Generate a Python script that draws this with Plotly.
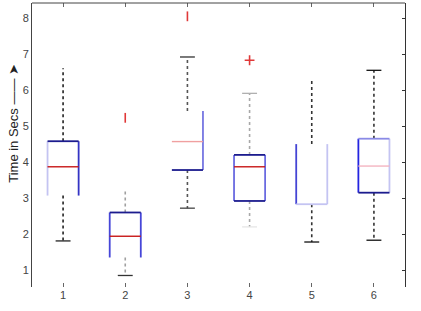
import plotly.graph_objects as go

# ---- data ----
groups = [1, 2, 3, 4, 5, 6]
q1 = [3.07, 1.35, 3.78, 2.92, 2.83, 3.15]
median = [3.87, 1.94, 4.57, 3.87, None, 3.89]
q3 = [4.58, 2.60, 5.42, 4.20, 4.50, 4.65]
lower_whisker = [1.81, 0.85, 2.72, 2.20, 1.78, 1.83]
upper_whisker = [6.61, 3.25, 6.92, 5.91, 6.33, 6.55]
outliers = [[], [5.23], [8.05], [6.83], [], []]
x_ticks = [1, 2, 3, 4, 5, 6]
y_ticks = [1, 2, 3, 4, 5, 6, 7, 8]

# ---- styles (rendering colours per box edge: left, right, bottom, top) ----
NAVY = "#1c1c8e"
MID = "#4646d8"
LIGHT = "#c4c4f2"
NONE = None
edge_colors = [
    (LIGHT, "#3434c4", NONE, NAVY),
    (MID, MID, NONE, NAVY),
    (NONE, "#7676e2", NAVY, NONE),
    ("#6a6ae0", "#6a6ae0", NAVY, NAVY),
    ("#4444d4", LIGHT, LIGHT, NONE),
    ("#2424e0", LIGHT, NAVY, "#8a8ae6"),
]
median_colors = ["#c81818", "#c81818", "#f0a0a0", "#c81818", None, "#f4b4c0"]
whisk_colors = ["#222222", "#a0a0a0", "#555555", "#a8a8a8", "#333333", "#333333"]
low_cap_colors = ["#222222", "#333333", "#444444", "#e6e6e6", "#111111", "#111111"]
up_cap_colors = [None, None, "#333333", "#b0b0b0", None, "#111111"]
out_symbols = [None, "line-ns-open", "line-ns-open", "cross-thin-open", None, None]
OUT_COLOR = "#e03838"

HW = 0.25   # box half width
CW = 0.12   # cap half width

fig = go.Figure()

def seg(x0, x1, y0, y1, color, width=1.6, dash=None):
    if color is None:
        return
    fig.add_trace(go.Scatter(x=[x0, x1], y=[y0, y1], mode="lines",
                             line=dict(color=color, width=width, dash=dash),
                             hoverinfo="skip", showlegend=False))

for i, g in enumerate(groups):
    l, r, b, t = edge_colors[i]
    # whiskers
    seg(g, g, q3[i], upper_whisker[i], whisk_colors[i], 1.6, "dot")
    seg(g, g, q1[i], lower_whisker[i], whisk_colors[i], 1.6, "dot")
    # caps
    seg(g - CW, g + CW, lower_whisker[i], lower_whisker[i], low_cap_colors[i], 1.3)
    seg(g - CW, g + CW, upper_whisker[i], upper_whisker[i], up_cap_colors[i], 1.3)
    # box edges
    seg(g - HW, g - HW, q1[i], q3[i], l, 1.8)
    seg(g + HW, g + HW, q1[i], q3[i], r, 1.8)
    seg(g - HW, g + HW, q1[i], q1[i], b, 1.8)
    seg(g - HW, g + HW, q3[i], q3[i], t, 1.8)
    # median
    if median[i] is not None:
        seg(g - HW, g + HW, median[i], median[i], median_colors[i], 1.4)
    # outliers
    if outliers[i]:
        fig.add_trace(go.Scatter(x=[g] * len(outliers[i]), y=outliers[i], mode="markers",
                                 marker=dict(symbol=out_symbols[i], size=7, color=OUT_COLOR,
                                             line=dict(color=OUT_COLOR, width=1.6)),
                                 hoverinfo="skip", showlegend=False))

# ghost trace to activate right axis
fig.add_trace(go.Scatter(x=[None], y=[None], yaxis="y2", showlegend=False))

fig.update_layout(
    width=421, height=311,
    margin=dict(l=32, r=16, t=3, b=24),
    plot_bgcolor="white", paper_bgcolor="white",
    font=dict(family="Liberation Sans, Arial, sans-serif", size=11, color="#444444"),
    xaxis=dict(range=[0.5, 6.5], tickvals=x_ticks, ticktext=[str(v) for v in x_ticks],
               showgrid=False, zeroline=False, showline=False,
               ticks="inside", ticklen=4, tickcolor="#666666", mirror="ticks"),
    yaxis=dict(range=[0.53, 8.42], tickvals=y_ticks, showgrid=False, zeroline=False,
               showline=True, linecolor="#444444", linewidth=1, ticks="", ticklen=0),
    yaxis2=dict(range=[0.53, 8.42], tickvals=y_ticks, overlaying="y", side="right",
                showgrid=False, zeroline=False, showline=True, linecolor="#333333",
                linewidth=1.2, ticks="inside", ticklen=3, tickcolor="#333333",
                showticklabels=False),
    shapes=[dict(type="line", xref="paper", yref="paper", x0=0, x1=1, y0=1, y1=1,
                 line=dict(color="#444444", width=1))],
    annotations=[dict(text="Time in Secs —— ➤", xref="paper", yref="paper",
                      x=-0.048, y=0.575, xanchor="center", yanchor="middle",
                      textangle=-90, showarrow=False,
                      font=dict(size=13, color="#222222"))],
)

fig.write_html("out.html")
